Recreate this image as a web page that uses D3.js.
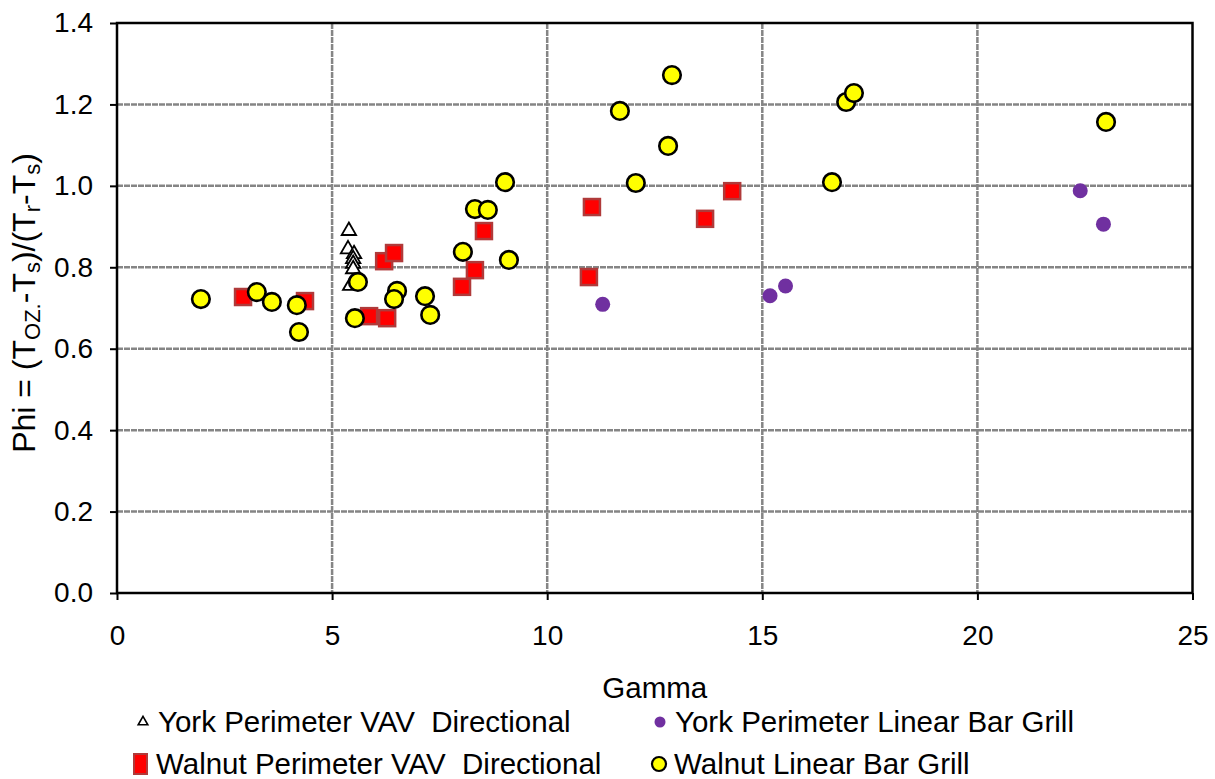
<!DOCTYPE html>
<html>
<head>
<meta charset="utf-8">
<script src="https://cdn.jsdelivr.net/npm/d3@7"></script>
<style>
  body { margin: 0; background: #fff; }
  svg text { font-family: "Liberation Sans", Arial, sans-serif; fill: #000; }
</style>
</head>
<body>
<div id="chart"></div>
<script>
// York Perimeter VAV Directional (open triangles)
const yorkVavGamma = [5.39, 5.37, 5.51, 5.49, 5.49, 5.49, 5.42];
const yorkVavPhi   = [0.892, 0.847, 0.835, 0.823, 0.811, 0.798, 0.757];

// York Perimeter Linear Bar Grill (purple dots)
const yorkLbgGamma = [11.29, 15.18, 15.54, 22.39, 22.93];
const yorkLbgPhi   = [0.709, 0.730, 0.754, 0.988, 0.906];

// Walnut Perimeter VAV Directional (red squares)
const walnutVavGamma = [2.93, 4.37, 5.86, 6.28, 6.21, 6.44, 8.02, 8.32, 8.53, 10.97, 11.04, 13.67, 14.30];
const walnutVavPhi   = [0.727, 0.717, 0.680, 0.675, 0.815, 0.835, 0.752, 0.793, 0.889, 0.776, 0.948, 0.919, 0.987];

// Walnut Linear Bar Grill (yellow circles)
const walnutLbgGamma = [1.95, 3.25, 3.60, 4.18, 4.23, 5.60, 5.53, 6.51, 6.44, 7.16, 7.28, 8.04, 8.32, 8.62,
                        9.11, 9.02, 11.69, 12.06, 12.81, 12.90, 16.62, 16.95, 17.13, 22.99];
const walnutLbgPhi   = [0.722, 0.739, 0.715, 0.707, 0.641, 0.764, 0.675, 0.742, 0.722, 0.729, 0.683, 0.838, 0.943, 0.941,
                        0.818, 1.009, 1.184, 1.007, 1.098, 1.272, 1.009, 1.206, 1.228, 1.157];

const xTicks = [0, 5, 10, 15, 20, 25];
const yTicks = [0, 0.2, 0.4, 0.6, 0.8, 1.0, 1.2, 1.4];

const W = 1215, H = 779;
const margin = { top: 23, right: 22.5, bottom: 186, left: 117 };
const width = W - margin.left - margin.right;
const height = H - margin.top - margin.bottom;
const tickFont = "28px";
const labelFont = "29.5px";

const svg = d3.select("#chart").append("svg")
    .attr("width", W)
    .attr("height", H);

const g = svg.append("g")
    .attr("transform", "translate(" + margin.left + "," + margin.top + ")");

const x = d3.scaleLinear().domain([0, 25]).range([0, width]);
const y = d3.scaleLinear().domain([0, 1.4]).range([height, 0]);

// grid lines
g.append("g").selectAll("line")
    .data(yTicks.filter(d => d > 0 && d < 1.4))
    .enter().append("line")
    .attr("x1", 0).attr("x2", width)
    .attr("y1", d => y(d)).attr("y2", d => y(d))
    .attr("stroke", "#858585").attr("stroke-width", 2.5)
    .attr("stroke-dasharray", "6,1");

g.append("g").selectAll("line")
    .data(xTicks.filter(d => d > 0 && d < 25))
    .enter().append("line")
    .attr("y1", 0).attr("y2", height)
    .attr("x1", d => x(d)).attr("x2", d => x(d))
    .attr("stroke", "#858585").attr("stroke-width", 2.5)
    .attr("stroke-dasharray", "6,1");

// frame
g.append("rect")
    .attr("width", width).attr("height", height)
    .attr("fill", "none").attr("stroke", "#000").attr("stroke-width", 2.5);

// axes
const xAxisCall = d3.axisBottom(x).tickValues(xTicks).tickSize(7).tickPadding(25)
    .tickFormat(d3.format("d"));
const yAxisCall = d3.axisLeft(y).tickValues(yTicks).tickSize(7).tickPadding(17)
    .tickFormat(d3.format(".1f"));

const xAxis = g.append("g")
    .attr("transform", "translate(0," + height + ")")
    .call(xAxisCall);
const yAxis = g.append("g").call(yAxisCall);

[xAxis, yAxis].forEach(a => {
    a.select(".domain").remove();
    a.selectAll("line").attr("stroke", "#000").attr("stroke-width", 2);
    a.selectAll("text").style("font-size", tickFont).attr("fill", "#000");
});

// axis titles
g.append("text")
    .attr("x", width / 2)
    .attr("y", height + 105)
    .attr("text-anchor", "middle")
    .style("font-size", labelFont)
    .text("Gamma");

const yTitle = svg.append("text")
    .attr("transform", "translate(35," + (margin.top + 280) + ") rotate(-90)")
    .attr("text-anchor", "middle")
    .style("font-size", "32px");
const sub = (t, s) => t.append("tspan").attr("baseline-shift", "-22%").style("font-size", "22px").text(s);
const norm = (t, s) => t.append("tspan").text(s);
norm(yTitle, "Phi = (T");
sub(yTitle, "OZ.");
norm(yTitle, "-T");
sub(yTitle, "s");
norm(yTitle, ")/(T");
sub(yTitle, "r");
norm(yTitle, "-T");
sub(yTitle, "s");
norm(yTitle, ")");

// marks
const zip = (xs, ys) => xs.map((v, i) => ({ gamma: v, phi: ys[i] }));

const triangle = d3.symbol().type(d3.symbolTriangle).size(90);

function drawTriangle(sel) {
    sel.attr("d", triangle)
        .attr("fill", "#fff").attr("stroke", "#000").attr("stroke-width", 1.8);
}
function drawSquare(sel) {
    sel.attr("width", 16).attr("height", 16)
        .attr("fill", "#ff0000").attr("stroke", "#b03a3a").attr("stroke-width", 2.5);
}
function drawPurple(sel) {
    sel.attr("r", 7.5).attr("fill", "#7030a0");
}
function drawYellow(sel) {
    sel.attr("r", 8.8).attr("fill", "#ffff00").attr("stroke", "#000").attr("stroke-width", 2.6);
}

g.append("g").selectAll("rect")
    .data(zip(walnutVavGamma, walnutVavPhi))
    .enter().append("rect")
    .attr("x", d => x(d.gamma) - 8)
    .attr("y", d => y(d.phi) - 8)
    .call(drawSquare);

g.append("g").selectAll("path")
    .data(zip(yorkVavGamma, yorkVavPhi))
    .enter().append("path")
    .attr("transform", d => "translate(" + x(d.gamma) + "," + (y(d.phi) + 1) + ")")
    .call(drawTriangle);

g.append("g").selectAll("circle")
    .data(zip(yorkLbgGamma, yorkLbgPhi))
    .enter().append("circle")
    .attr("cx", d => x(d.gamma))
    .attr("cy", d => y(d.phi))
    .call(drawPurple);

g.append("g").selectAll("circle")
    .data(zip(walnutLbgGamma, walnutLbgPhi))
    .enter().append("circle")
    .attr("cx", d => x(d.gamma))
    .attr("cy", d => y(d.phi))
    .call(drawYellow);

// legend
const legendItems = [
    { label: "York Perimeter VAV\u00a0 Directional", kind: "tri", lx: 143, ly: 722 },
    { label: "York Perimeter Linear Bar Grill", kind: "purple", lx: 660, ly: 722 },
    { label: "Walnut Perimeter VAV\u00a0 Directional", kind: "square", lx: 141, ly: 764 },
    { label: "Walnut Linear Bar Grill", kind: "yellow", lx: 659, ly: 764 }
];

const legend = svg.append("g");
legendItems.forEach(d => {
    const item = legend.append("g").attr("transform", "translate(" + d.lx + "," + d.ly + ")");
    if (d.kind === "tri") {
        item.append("path").attr("d", d3.symbol().type(d3.symbolTriangle).size(40))
            .attr("fill", "#fff").attr("stroke", "#000").attr("stroke-width", 1.6);
    } else if (d.kind === "purple") {
        item.append("circle").attr("r", 5.5).attr("fill", "#7030a0");
    } else if (d.kind === "square") {
        item.append("rect").attr("x", -7).attr("y", -10).attr("width", 13).attr("height", 20)
            .attr("fill", "#ff0000").attr("stroke", "#b03a3a").attr("stroke-width", 2);
    } else {
        item.append("circle").attr("r", 7).attr("fill", "#ffff00")
            .attr("stroke", "#000").attr("stroke-width", 2.2);
    }
    item.append("text")
        .attr("x", 15)
        .attr("y", 10)
        .style("font-size", labelFont)
        .text(d.label);
});
</script>
</body>
</html>
